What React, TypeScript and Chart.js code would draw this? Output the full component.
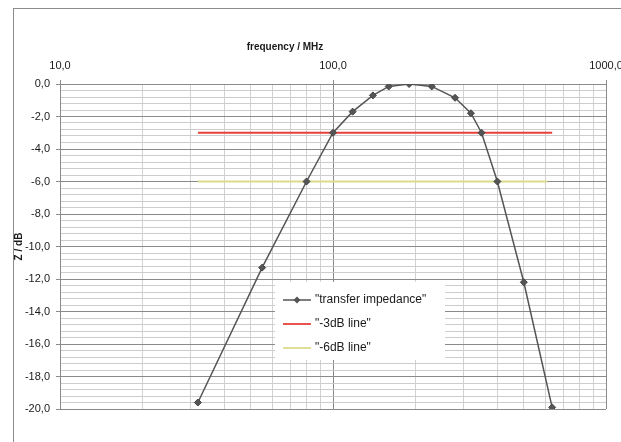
import React, { useEffect, useRef } from "react";
import { Chart, registerables } from "chart.js";

Chart.register(...registerables);

// ---- data ----
const freqMHz = [32, 55, 80, 100, 118, 140, 160, 190, 230, 280, 320, 350, 400, 500, 635];
const transferDb = [-19.6, -11.3, -6.0, -3.0, -1.7, -0.7, -0.15, 0.0, -0.15, -0.85, -1.8, -3.0, -6.0, -12.2, -19.9];
const line3Freq = [32, 635];
const line3Db = [-3, -3];
const line6Freq = [32, 610];
const line6Db = [-6, -6];
const seriesLabels = ['"transfer impedance"', '"-3dB line"', '"-6dB line"'];
const xTickValues = [10, 20, 30, 40, 50, 60, 70, 80, 90, 100, 200, 300, 400, 500, 600, 700, 800, 900, 1000];
const xTitle = "frequency / MHz";
const yTitle = "Z / dB";

const FONT = '"Liberation Sans", Arial, sans-serif';

const isDecade = (v: number) => Math.abs(Math.log10(v) - Math.round(Math.log10(v))) < 1e-9;
const isMajorY = (v: number) => Math.abs(v / 2 - Math.round(v / 2)) < 1e-6;
const fmt = (v: number) => (Math.abs(v) < 1e-9 ? 0 : v).toFixed(1).replace(".", ",");

const zip = (xs: number[], ys: number[]) => xs.map((x, i) => ({ x, y: ys[i] }));

const xTitlePlugin = {
  id: "xTitleOffset",
  afterDraw(chart: any) {
    const { ctx, chartArea } = chart;
    ctx.save();
    ctx.font = `bold 10px ${FONT}`;
    ctx.fillStyle = "#1a1a1a";
    ctx.textAlign = "center";
    ctx.textBaseline = "middle";
    ctx.fillText(xTitle, chartArea.left + 225, chartArea.top - 37);
    ctx.restore();
  },
};

const boxLegendPlugin = {
  id: "boxLegend",
  afterDatasetsDraw(chart: any) {
    const { ctx, chartArea } = chart;
    const x0 = chartArea.left + 215;
    const y0 = chartArea.top + 198;
    ctx.save();
    ctx.fillStyle = "#ffffff";
    ctx.fillRect(x0, y0, 170, 78);
    chart.data.datasets.forEach((ds: any, i: number) => {
      const y = y0 + 18 + i * 24;
      ctx.strokeStyle = ds.borderColor;
      ctx.lineWidth = ds.borderWidth;
      ctx.beginPath();
      ctx.moveTo(x0 + 8, y);
      ctx.lineTo(x0 + 36, y);
      ctx.stroke();
      if (ds.pointRadius > 0) {
        const r = ds.pointRadius;
        const cx = x0 + 22;
        ctx.fillStyle = ds.pointBackgroundColor;
        ctx.beginPath();
        ctx.moveTo(cx, y - r);
        ctx.lineTo(cx + r, y);
        ctx.lineTo(cx, y + r);
        ctx.lineTo(cx - r, y);
        ctx.closePath();
        ctx.fill();
      }
      ctx.fillStyle = "#1a1a1a";
      ctx.font = `12px ${FONT}`;
      ctx.textAlign = "left";
      ctx.textBaseline = "middle";
      ctx.fillText(ds.label, x0 + 40, y);
    });
    ctx.restore();
  },
};

export default function App() {
  const canvasRef = useRef<HTMLCanvasElement | null>(null);

  useEffect(() => {
    if (!canvasRef.current) return;
    Chart.defaults.font.family = FONT;
    const chart = new Chart(canvasRef.current, {
      type: "line",
      data: {
        datasets: [
          {
            label: seriesLabels[0],
            data: zip(freqMHz, transferDb),
            borderColor: "#555555",
            borderWidth: 1.5,
            pointStyle: "rectRot",
            pointRadius: 3.5,
            pointBackgroundColor: "#555555",
            pointBorderColor: "#444444",
            pointBorderWidth: 1,
            tension: 0,
          },
          {
            label: seriesLabels[1],
            data: zip(line3Freq, line3Db),
            borderColor: "#e8413c",
            borderWidth: 1.8,
            pointRadius: 0,
          },
          {
            label: seriesLabels[2],
            data: zip(line6Freq, line6Db),
            borderColor: "#dcdc8c",
            borderWidth: 1.8,
            pointRadius: 0,
          },
        ],
      },
      options: {
        animation: false,
        responsive: false,
        devicePixelRatio: 1,
        parsing: true,
        layout: { padding: { left: 13, top: 35, right: 15, bottom: 33 } },
        plugins: {
          legend: { display: false },
          tooltip: { enabled: false },
        },
        scales: {
          x: {
            type: "logarithmic",
            position: "top",
            min: 10,
            max: 1000,
            afterBuildTicks: (scale: any) => {
              scale.ticks = xTickValues.map((v) => ({ value: v, major: isDecade(v) }));
            },
            afterFit: (scale: any) => {
              scale.height = 49;
              scale.paddingLeft = 0;
              scale.paddingRight = 0;
            },
            ticks: {
              autoSkip: false,
              maxRotation: 0,
              padding: 7,
              color: "#1a1a1a",
              font: { size: 11 },
              callback: (v: any) => (isDecade(Number(v)) ? fmt(Number(v)) : ""),
            },
            grid: {
              color: (ctx: any) => (ctx.tick && isDecade(ctx.tick.value) ? "#8a8a8a" : "#d2d2d2"),
              tickColor: (ctx: any) => (ctx.tick && isDecade(ctx.tick.value) ? "#8a8a8a" : "rgba(0,0,0,0)"),
              tickLength: 4,
              lineWidth: 1,
            },
            border: { color: "#8a8a8a", width: 1 },
            title: { display: false, text: xTitle },
          },
          y: {
            type: "linear",
            min: -20,
            max: 0,
            afterFit: (scale: any) => {
              scale.width = 47;
              scale.paddingTop = 0;
              scale.paddingBottom = 0;
            },
            ticks: {
              stepSize: 0.4,
              autoSkip: false,
              padding: 6,
              color: "#1a1a1a",
              font: { size: 11 },
              callback: (v: any) => (isMajorY(Number(v)) ? fmt(Number(v)) : ""),
            },
            grid: {
              color: (ctx: any) => (ctx.tick && isMajorY(ctx.tick.value) ? "#8a8a8a" : "#cdcdcd"),
              tickColor: (ctx: any) => (ctx.tick && isMajorY(ctx.tick.value) ? "#8a8a8a" : "rgba(0,0,0,0)"),
              tickLength: 4,
              lineWidth: 1,
            },
            border: { color: "#8a8a8a", width: 1 },
            title: {
              display: true,
              text: yTitle,
              color: "#1a1a1a",
              font: { size: 10, weight: "bold" },
              padding: { top: 0, bottom: 0 },
            },
          },
        },
      },
      plugins: [boxLegendPlugin, xTitlePlugin],
    } as any);
    return () => chart.destroy();
  }, []);

  return (
    <div
      style={{
        position: "absolute",
        left: 0,
        top: 0,
        width: 621,
        height: 442,
        overflow: "hidden",
        background: "#ffffff",
      }}
    >
      <div
        style={{
          position: "absolute",
          left: 13,
          top: 8,
          width: 700,
          height: 500,
          border: "1px solid #8c8c8c",
        }}
      />
      <canvas
        ref={canvasRef}
        width={621}
        height={442}
        style={{ position: "absolute", left: 0, top: 0, width: 621, height: 442 }}
      />
    </div>
  );
}
